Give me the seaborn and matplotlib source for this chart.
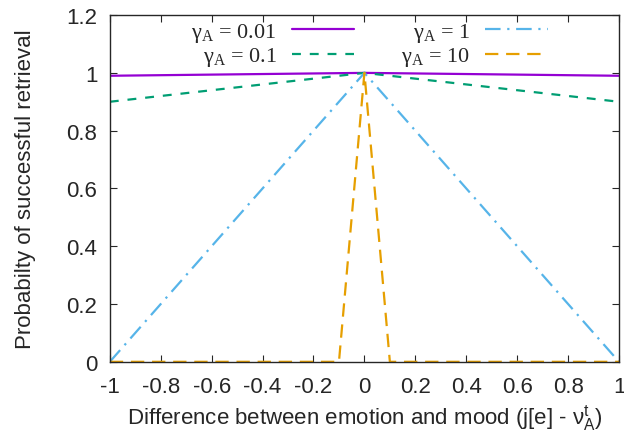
import pandas as pd
import matplotlib.pyplot as plt
import seaborn as sns

# values
x_001 = [-1.0, 0.0, 1.0]
y_001 = [0.99, 1.0, 0.99]
x_01 = [-1.0, 0.0, 1.0]
y_01 = [0.9, 1.0, 0.9]
x_1 = [-1.0, 0.0, 1.0]
y_1 = [0.0, 1.0, 0.0]
x_10 = [-1.0, -0.1, 0.0, 0.1, 1.0]
y_10 = [0.0, 0.0, 1.0, 0.0, 0.0]

labels = [r"$\mathrm{\gamma_A}$ = 0.01", r"$\mathrm{\gamma_A}$ = 0.1",
          r"$\mathrm{\gamma_A}$ = 1", r"$\mathrm{\gamma_A}$ = 10"]
colors = ["#9400D3", "#009E73", "#56B4E9", "#E69F00"]
dashes = [(None, None), (4, 4), (7, 3, 1, 3), (6, 3.5)]

xticks = [-1, -0.8, -0.6, -0.4, -0.2, 0, 0.2, 0.4, 0.6, 0.8, 1]
xticklabels = ["-1", "-0.8", "-0.6", "-0.4", "-0.2", "0", "0.2", "0.4",
               "0.6", "0.8", "1"]
yticks = [0, 0.2, 0.4, 0.6, 0.8, 1, 1.2]
yticklabels = ["0", "0.2", "0.4", "0.6", "0.8", "1", "1.2"]

sns.set_style("ticks")
plt.rcParams["font.family"] = ["Liberation Sans", "DejaVu Sans"]
plt.rcParams["mathtext.fontset"] = "custom"
plt.rcParams["mathtext.rm"] = "Liberation Serif"
plt.rcParams["mathtext.it"] = "Liberation Serif:italic"
plt.rcParams["mathtext.sf"] = "Liberation Sans"

fig, ax = plt.subplots(figsize=(6.24, 4.35), dpi=100)
fig.subplots_adjust(left=0.176, right=0.992, top=0.963, bottom=0.166)

series = [(x_001, y_001), (x_01, y_01), (x_1, y_1), (x_10, y_10)]
for (xs, ys), lab, c, d in zip(series, labels, colors, dashes):
    df = pd.DataFrame({"x": xs, "y": ys})
    sns.lineplot(data=df, x="x", y="y", ax=ax, color=c, lw=1.6,
                 label=lab, sort=False)
    if d[0] is not None:
        ax.lines[-1].set_dashes(d)

ax.set_xlim(-1, 1)
ax.set_ylim(0, 1.2)
ax.set_xticks(xticks)
ax.set_xticklabels(xticklabels)
ax.set_yticks(yticks)
ax.set_yticklabels(yticklabels)
ax.tick_params(direction="in", top=True, right=True, labelsize=16, length=5)
ax.tick_params(axis="x", pad=10)
ax.tick_params(axis="y", pad=9)
for s in ax.spines.values():
    s.set_visible(True)
    s.set_linewidth(1.0)

ax.set_xlabel(r"Difference between emotion and mood (j[e] - $\mathsf{\nu_A^t}$)",
              fontsize=16, labelpad=4)
ax.set_ylabel("Probabilty of successful retrieval", fontsize=16, labelpad=22)

handles, labs = ax.get_legend_handles_labels()
ax.legend(handles, labs, ncol=2, frameon=False, markerfirst=False,
          loc="upper center", bbox_to_anchor=(0.51, 1.04), handlelength=2.8,
          columnspacing=2.1, labelspacing=0.05, handletextpad=0.7,
          prop={"family": "Liberation Serif", "size": 16})

plt.savefig("out.png")
